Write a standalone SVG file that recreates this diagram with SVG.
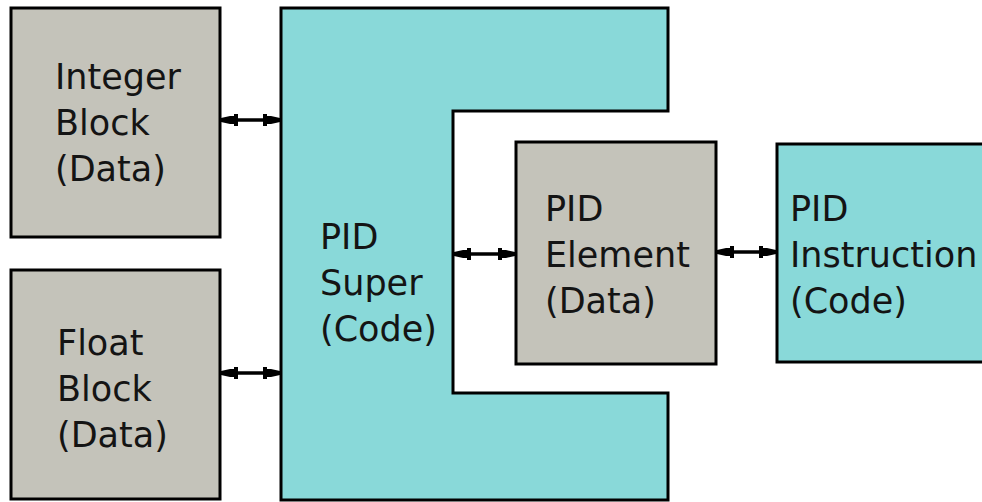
<svg xmlns="http://www.w3.org/2000/svg" width="982" height="502" viewBox="0 0 982 502">
  <style>
    .data { fill: #c4c3ba; stroke: #000; stroke-width: 3; }
    .code { fill: #89d9d9; stroke: #000; stroke-width: 3; }
    .label { font-family: "DejaVu Sans", sans-serif; font-size: 35px; fill: #141414; }
    .link { stroke: #000; stroke-width: 3.5; fill: none; marker-start: url(#head); marker-end: url(#head); }
  </style>
  <defs>
    <!-- bold double-ended arrowhead: solid tip with a cross bar behind it -->
    <marker id="head" viewBox="0 0 18 14" refX="18" refY="7" markerWidth="18" markerHeight="14" markerUnits="userSpaceOnUse" orient="auto-start-reverse">
      <path d="M1,1 L5,1 L5,3 L9,3 L18,5 L18,9 L9,11 L5,11 L5,13 L1,13 Z" fill="#000"/>
    </marker>
  </defs>

  <g id="integer-block">
    <rect class="data" x="11" y="8" width="209" height="229"/>
    <text class="label" x="55" y="89">Integer</text>
    <text class="label" x="55" y="135">Block</text>
    <text class="label" x="55" y="181">(Data)</text>
  </g>

  <g id="float-block">
    <rect class="data" x="11" y="270" width="209" height="229"/>
    <text class="label" x="57" y="355">Float</text>
    <text class="label" x="57" y="401">Block</text>
    <text class="label" x="57" y="447">(Data)</text>
  </g>

  <g id="pid-super">
    <path class="code" d="M281,8 H668 V111 H453 V393 H668 V500 H281 Z"/>
    <text class="label" x="320" y="249">PID</text>
    <text class="label" x="320" y="295">Super</text>
    <text class="label" x="320" y="341">(Code)</text>
  </g>

  <g id="pid-element">
    <rect class="data" x="516" y="142" width="200" height="222"/>
    <text class="label" x="545" y="221">PID</text>
    <text class="label" x="545" y="267">Element</text>
    <text class="label" x="545" y="313">(Data)</text>
  </g>

  <g id="pid-instruction">
    <rect class="code" x="777" y="144" width="215" height="218"/>
    <text class="label" x="790" y="221">PID</text>
    <text class="label" x="790" y="267">Instruction</text>
    <text class="label" x="790" y="313">(Code)</text>
  </g>

  <g id="connectors">
    <line class="link" x1="221" y1="120" x2="280" y2="120"/>
    <line class="link" x1="221" y1="373" x2="280" y2="373"/>
    <line class="link" x1="454" y1="254" x2="515" y2="254"/>
    <line class="link" x1="717" y1="252" x2="776" y2="252"/>
  </g>
</svg>
